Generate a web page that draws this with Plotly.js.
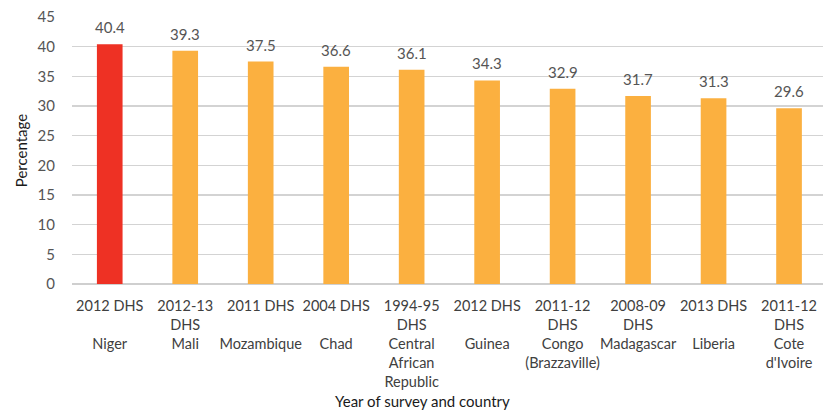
<!DOCTYPE html>
<html>
<head>
<meta charset="utf-8">
<script src="https://cdn.plot.ly/plotly-3.0.1.min.js"></script>
<style>html,body{margin:0;padding:0;background:#fff;}#chart{width:823px;height:411px;}</style>
</head>
<body>
<div id="chart"></div>
<script>
var categories = [
  "2012 DHS<br><br>Niger",
  "2012-13<br>DHS<br>Mali",
  "2011 DHS<br><br>Mozambique",
  "2004 DHS<br><br>Chad",
  "1994-95<br>DHS<br>Central<br>African<br>Republic",
  "2012 DHS<br><br>Guinea",
  "2011-12<br>DHS<br>Congo<br>(Brazzaville)",
  "2008-09<br>DHS<br>Madagascar",
  "2013 DHS<br><br>Liberia",
  "2011-12<br>DHS<br>Cote<br>d'Ivoire"
];
var values = [40.4, 39.3, 37.5, 36.6, 36.1, 34.3, 32.9, 31.7, 31.3, 29.6];
var barColors = ["#EE3124","#FBB040","#FBB040","#FBB040","#FBB040","#FBB040","#FBB040","#FBB040","#FBB040","#FBB040"];
var yTicks = [0, 5, 10, 15, 20, 25, 30, 35, 40, 45];

var FONT = "Lato, Open Sans, sans-serif";

var trace = {
  type: "bar",
  x: categories,
  y: values,
  marker: {color: barColors, line: {width: 0}},
  width: 0.34,
  hoverinfo: "skip",
  showlegend: false
};

var anns = values.map(function(v, i) {
  return {
    x: categories[i], y: v, xref: "x", yref: "y",
    text: v.toFixed(1), showarrow: false,
    yanchor: "bottom", yshift: 6,
    font: {family: FONT, size: 15, color: "#555555"}
  };
});
anns.push({
  x: (422 - 72) / (823 - 72), xref: "paper",
  y: -(401 - 284) / (284 - 17), yref: "paper", yanchor: "middle",
  text: "Year of survey and country", showarrow: false,
  font: {family: FONT, size: 15, color: "#1a1a1a"}
});

var layout = {
  width: 823, height: 411,
  margin: {l: 72, r: 0, t: 17, b: 127},
  paper_bgcolor: "#ffffff", plot_bgcolor: "#ffffff",
  font: {family: FONT, size: 14, color: "#404040"},
  xaxis: {
    range: [-0.5, 9.45],
    showgrid: false, zeroline: false, showline: false,
    ticks: "outside", ticklen: 9, tickcolor: "rgba(0,0,0,0)", tickangle: 0,
    tickfont: {family: FONT, size: 14.5, color: "#404040"},
    fixedrange: true
  },
  yaxis: {
    range: [0, 45],
    tickvals: yTicks, ticktext: yTicks.map(String),
    showgrid: true, gridcolor: "#d3d3d3", gridwidth: 1.5,
    zeroline: true, zerolinecolor: "#cfcfcf", zerolinewidth: 2,
    showline: false,
    ticks: "outside", ticklen: 13, tickcolor: "rgba(0,0,0,0)",
    tickfont: {family: FONT, size: 15, color: "#555555"},
    title: {text: "Percentage", font: {family: FONT, size: 15, color: "#1a1a1a"}, standoff: 6},
    fixedrange: true
  },
  shapes: [{
    type: "line", xref: "paper", yref: "paper",
    x0: 0, x1: 1, y0: 1, y1: 1,
    line: {color: "#ffffff", width: 3}, layer: "above"
  }],
  annotations: anns
};

Plotly.newPlot("chart", [trace], layout, {displayModeBar: false, staticPlot: true});
</script>
</body>
</html>
